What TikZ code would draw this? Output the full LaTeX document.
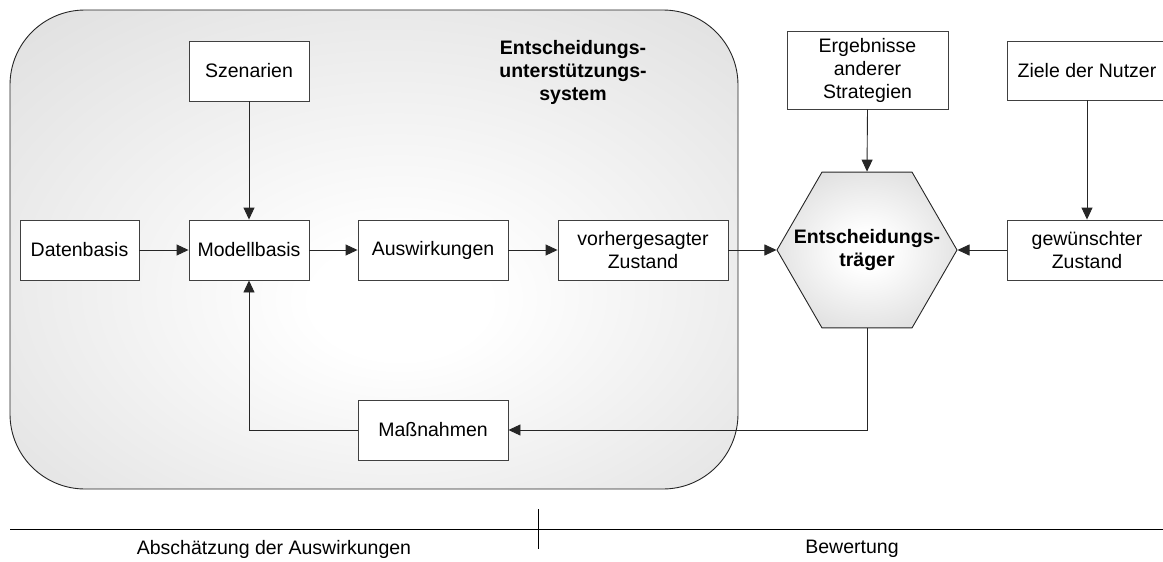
\documentclass[tikz,border=0pt]{standalone}
\usepackage{fontspec}
\setmainfont{Liberation Sans}
\usetikzlibrary{arrows.meta,shapes.geometric}

% soft radial glows: white centre fading to light grey
\pgfdeclareradialshading{panelglow}{\pgfpoint{2bp}{-6bp}}{%
  color(0bp)=(white); color(6bp)=(white); color(44bp)=(black!15); color(60bp)=(black!15)}
\pgfdeclareradialshading{hexglow}{\pgfpoint{0bp}{0bp}}{%
  color(0bp)=(white); color(6bp)=(white); color(42bp)=(black!20); color(60bp)=(black!20)}

\tikzset{
  txt/.style={font=\fontsize{19.5}{23}\selectfont, align=center},
  box/.style={txt, draw=black!75, line width=0.9pt, fill=white, inner sep=0pt,
              minimum height=60pt},
  flow/.style={line width=0.9pt, draw=black!85,
               -{Triangle[length=12pt,width=11pt]}},
  plain/.style={line width=0.9pt, draw=black!85},
}

\begin{document}
\begin{tikzpicture}[x=1pt,y=-1pt]
  \useasboundingbox (0,0) rectangle (1163,562);
  \clip (0,0) rectangle (1163,562);

  % decision support system panel
  \draw[line width=0.9pt, draw=black!85, shading=panelglow, rounded corners=75pt]
    (10,10) rectangle (738,489);
  \node[txt, font=\fontsize{19.5}{23}\selectfont\bfseries] (dss) at (573,72)
    {Entscheidungs-\\unterstützungs-\\system};

  % boxes inside the panel
  \node[box, minimum width=120pt] (sz) at (249,71)  {Szenarien};
  \node[box, minimum width=119pt] (db) at (79.5,250) {Datenbasis};
  \node[box, minimum width=120pt] (mb) at (249,250) {Modellbasis};
  \node[box, minimum width=150pt] (aw) at (433,250) {Auswirkungen};
  \node[box, minimum width=170pt] (vz) at (643,250) {vorhergesagter\\Zustand};
  \node[box, minimum width=150pt] (mn) at (433,430) {Maßnahmen};

  % evaluation side
  \node[regular polygon, regular polygon sides=6, minimum size=180pt, inner sep=0pt,
        draw=black!85, line width=0.9pt, shading=hexglow] (hex) at (867,250) {};
  \node[txt, font=\fontsize{19.5}{23}\selectfont\bfseries] (hexlbl) at (hex.center)
    {Entscheidungs-\\träger};
  \node[box, minimum width=161pt, minimum height=78pt] (erg) at (867.5,70)
    {Ergebnisse\\anderer\\Strategien};
  \node[box, minimum width=160pt, minimum height=59pt] (ziel) at (1087,70.5)
    {Ziele der Nutzer};
  \node[box, minimum width=160pt] (gew) at (1087,250) {gewünschter\\Zustand};

  % connectors
  \draw[flow] (db.east) -- (mb.west);
  \draw[flow] (sz.south) -- (mb.north);
  \draw[flow] (mb.east) -- (aw.west);
  \draw[flow] (aw.east) -- (vz.west);
  \draw[flow] (vz.east) -- (hex.west);
  \draw[flow] (erg.south) -- (hex.north);
  \draw[flow] (ziel.south) -- (gew.north);
  \draw[flow] (gew.west) -- (hex.east);
  \draw[flow] (hex.south) |- (mn.east);
  \draw[flow] (mn.west) -| (mb.south);

  % phase axis at the bottom
  \coordinate (axL) at (10,529);
  \coordinate (axR) at (1163,529);
  \coordinate (tickT) at (538,509);
  \coordinate (tickB) at (538,549);
  \draw[plain, draw=black] (axL) -- (axR);
  \draw[plain, draw=black] (tickT) -- (tickB);
  \node[txt] (phase1) at (274,549) {Abschätzung der Auswirkungen};
  \node[txt] (phase2) at (852,549) {Bewertung};
\end{tikzpicture}
\end{document}
